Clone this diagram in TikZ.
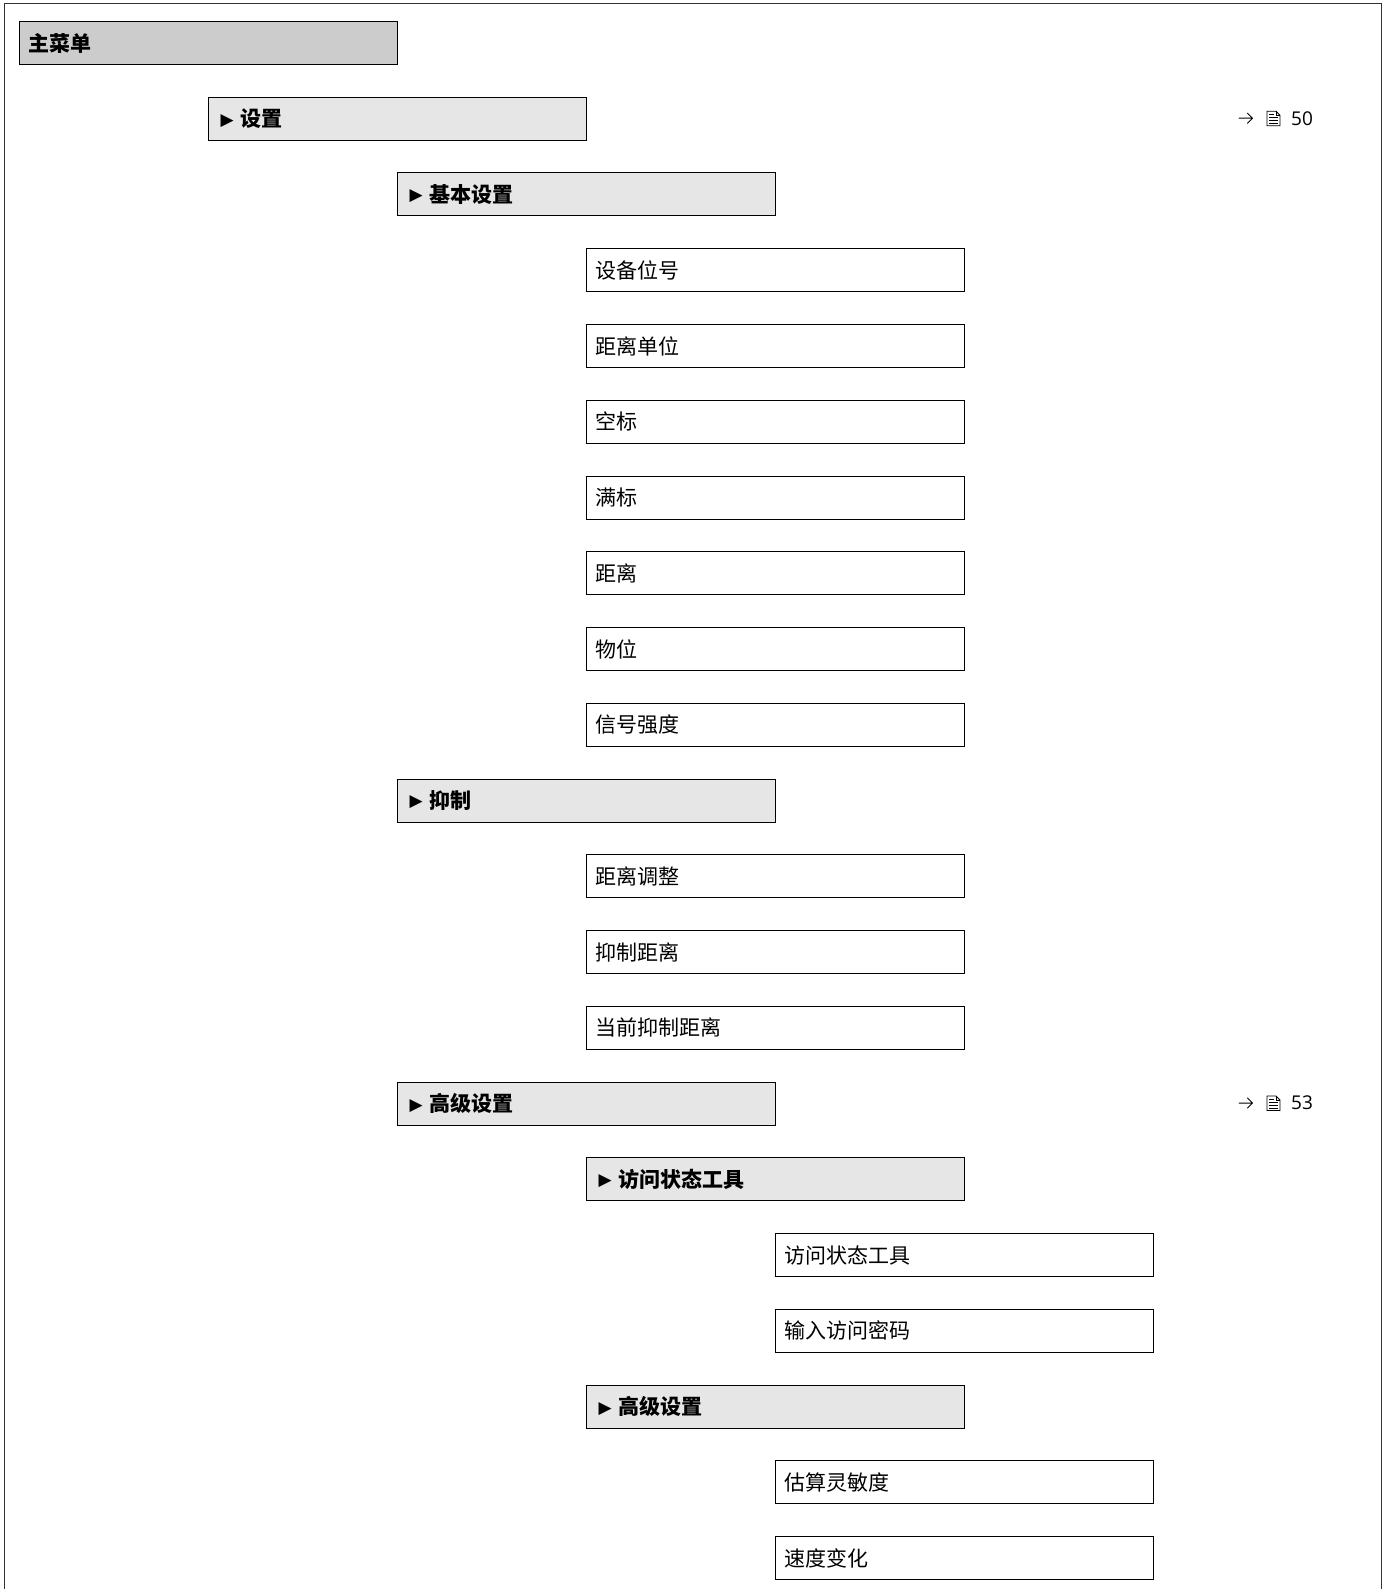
\documentclass[tikz,border=0pt]{standalone}
\usepackage{fontspec}
\newfontfamily\cjk{Noto Sans CJK SC}
\newfontfamily\dv{DejaVu Sans}
\newfontfamily\onum{Open Sans}
\definecolor{mainfill}{HTML}{CCCCCC}
\definecolor{headfill}{HTML}{E6E6E6}
\begin{document}
\begin{tikzpicture}[x=1pt,y=-1pt,
  anyb/.style={draw=black, line width=1pt, rectangle, anchor=north west,
    inner xsep=9pt, inner ysep=0pt, text width=360pt, align=left,
    minimum height=43pt, font=\cjk\fontsize{21}{24}\selectfont},
  mainb/.style={anyb, fill=mainfill, font=\cjk\bfseries\fontsize{21}{24}\selectfont},
  headb/.style={anyb, fill=headfill, font=\cjk\bfseries\fontsize{21}{24}\selectfont},
  plainb/.style={anyb, fill=white},
  reftxt/.style={anchor=west, inner sep=0pt, font=\onum\fontsize{19}{22}\selectfont},
  refline/.style={line width=1pt, line cap=round, line join=round}
]
\useasboundingbox (0,0) rectangle (1387,1589);
\fill[white] (0,0) rectangle (1387,1589);
\draw[line width=1pt, black!80] (4,1589) -- (4,4) -- (1381,4) -- (1381,1589);

\newcommand{\tri}{\hspace{3pt}\raisebox{1.5pt}{\dv\fontsize{17}{18}\selectfont ▶}\hspace{7pt}}

\node[mainb]  (n0)  at (19,21)      {主菜单};
\node[headb]  (n1)  at (208,96.75)  {\tri 设置};
\node[headb]  (n2)  at (397,172.5)  {\tri 基本设置};
\node[plainb] (n3)  at (586,248.25) {设备位号};
\node[plainb] (n4)  at (586,324)    {距离单位};
\node[plainb] (n5)  at (586,399.75) {空标};
\node[plainb] (n6)  at (586,475.5)  {满标};
\node[plainb] (n7)  at (586,551.25) {距离};
\node[plainb] (n8)  at (586,627)    {物位};
\node[plainb] (n9)  at (586,702.75) {信号强度};
\node[headb]  (n10) at (397,778.5)  {\tri 抑制};
\node[plainb] (n11) at (586,854.25) {距离调整};
\node[plainb] (n12) at (586,930)    {抑制距离};
\node[plainb] (n13) at (586,1005.75){当前抑制距离};
\node[headb]  (n14) at (397,1081.5) {\tri 高级设置};
\node[headb]  (n15) at (586,1157.25){\tri 访问状态工具};
\node[plainb] (n16) at (775,1233)   {访问状态工具};
\node[plainb] (n17) at (775,1308.75){输入访问密码};
\node[headb]  (n18) at (586,1384.5) {\tri 高级设置};
\node[plainb] (n19) at (775,1460.25){估算灵敏度};
\node[plainb] (n20) at (775,1536)   {速度变化};

% page references
\foreach \yy/\pg/\nm in {118.25/50/ra, 1103/53/rb}{
  \begin{scope}[shift={(1239,\yy)}]
    \draw[refline] (0,0) -- (13.5,0) (8.5,-5) -- (13.5,0) -- (8.5,5);
  \end{scope}
  \begin{scope}[shift={(1267,\yy)}]
    \draw[line width=0.9pt] (0,-7) -- (9,-7) -- (13,-3) -- (13,7.5) -- (0,7.5) -- cycle;
    \draw[line width=0.9pt] (9,-7) -- (9,-3) -- (13,-3);
    \draw[line width=0.8pt] (2,-4) -- (7,-4) (2,-1) -- (11,-1) (2,2) -- (11,2) (2,5) -- (11,5);
  \end{scope}
  \node[reftxt] (\nm) at (1291,\yy) {\pg};
}
\end{tikzpicture}
\end{document}
